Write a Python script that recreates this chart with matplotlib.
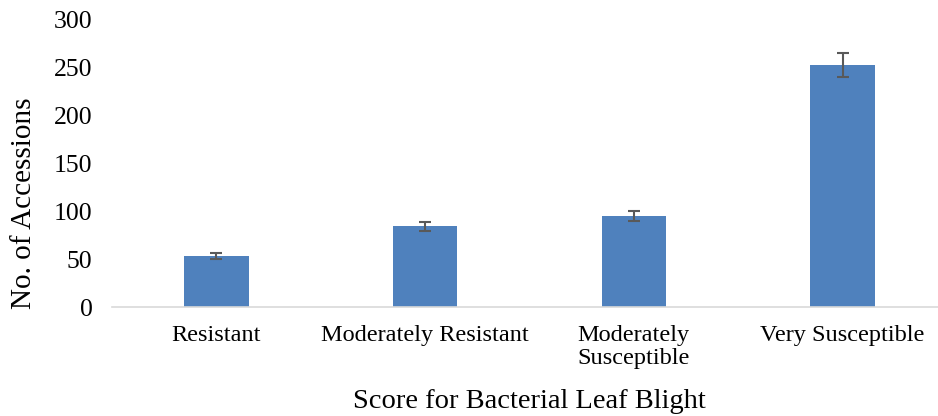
import matplotlib.pyplot as plt
import numpy as np

categories = ["Resistant", "Moderately Resistant", "Moderately\nSusceptible", "Very Susceptible"]
counts = [53, 84, 95, 252]
errors = [3, 4.5, 5, 12.5]

plt.rcParams['font.family'] = ['Liberation Serif', 'DejaVu Serif']

fig = plt.figure(figsize=(9.38, 4.16), dpi=100)
W, H = 938, 416
ax = fig.add_axes([112 / W, (416 - 307) / H, (947 - 112) / W, 288 / H])

x = np.arange(len(categories))
ax.bar(x, counts, width=0.31, color='#4f81bd', zorder=2)
ax.errorbar(x, counts, yerr=errors, fmt='none', ecolor='#595959',
            elinewidth=1.5, capsize=4.5, capthick=1.5, zorder=3)

ax.set_xlim(-0.5, len(categories) - 0.5)
ax.set_ylim(0, 300)
ax.set_yticks(np.arange(0, 301, 50))
ax.set_xticks(x)
ax.set_xticklabels(categories, fontsize=17.5, linespacing=1.12, multialignment='left')
ax.tick_params(axis='y', labelsize=18.5, length=0, pad=14)
ax.tick_params(axis='x', length=0, pad=13)

for side in ['top', 'right', 'left']:
    ax.spines[side].set_visible(False)
ax.spines['bottom'].set_color('#d9d9d9')
ax.spines['bottom'].set_linewidth(1.2)

ax.set_xlabel('Score for Bacterial Leaf Blight', fontsize=20.5)
ax.set_ylabel('No. of Accessions', fontsize=21)
ax.xaxis.set_label_coords(0.5, -(389 - 307) / 288)
ax.yaxis.set_label_coords((37 - 112) / 835, (307 - 203) / 288)

fig.savefig('out.png', dpi=100)
